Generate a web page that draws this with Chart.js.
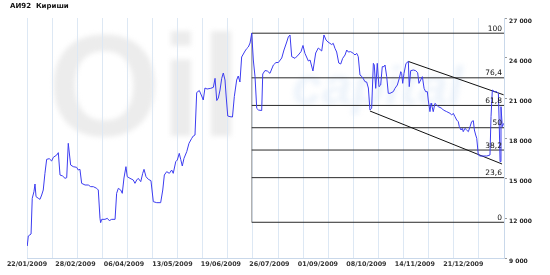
<!DOCTYPE html>
<html>
<head>
<meta charset="utf-8">
<script src="https://cdn.jsdelivr.net/npm/chart.js@4/dist/chart.umd.min.js"></script>
<style>
  html, body { margin: 0; padding: 0; background: #fff; }
  #wrap { position: relative; width: 550px; height: 275px; }
  #title { position: absolute; left: 10px; top: 2px; font: bold 7px 'DejaVu Sans'; color: #111; }
  canvas { position: absolute; left: 0; top: 0; }
</style>
</head>
<body>
<div id="wrap">
  <canvas id="c" width="550" height="275"></canvas>
  <div id="title">АИ92&nbsp;&nbsp;Кириши</div>
</div>
<script>
// days counted from 22/01/2009
const tickDays = [0, 37, 74, 111, 148, 185, 222, 259, 296, 333];
const tickLabels = ['22/01/2009', '28/02/2009', '06/04/2009', '13/05/2009', '19/06/2009',
  '26/07/2009', '01/09/2009', '08/10/2009', '14/11/2009', '21/12/2009'];
const gridDays = [0, 19.2, 38.3, 57.5, 76.6, 95.8, 114.9, 134.1, 153.3, 172.4, 191.6,
  210.7, 229.9, 249.1, 268.2, 287.4, 306.5, 325.7, 344.8, 364];

const days = [0.2, 1, 3.1, 4, 5.3, 6.1, 6.9, 8.6, 9.9, 11.2, 12.4, 13.7, 15, 17, 18.8, 20.1,
  22.7, 23.9, 25.2, 27.2, 29, 30.3, 31.5, 33.3, 35.3, 37.9, 39.1, 40.4, 41.7, 44.3, 46.8,
  48.6, 50.6, 53.2, 54.4, 55.7, 56.2, 57, 59.5, 61.3, 62.8, 64.6, 67.2, 68.4, 69.7, 71.5,
  72.7, 74, 75.5, 76.5, 78.6, 81.1, 82.4, 83.7, 84.9, 86.8, 88.3, 89.3, 90.8, 92.6, 94.6,
  96.4, 99, 102, 103.6, 104.8, 106.6, 108.6, 110.4, 111.6, 113.5, 114.7, 116.2, 117.3,
  118.5, 119.8, 121.9, 123.6, 125.7, 126.9, 128.2, 129.5, 131.5, 133.3, 134.5, 135.8,
  137.4, 140.2, 142.2, 143.5, 144.8, 146, 147.3, 148.6, 149.8, 151.1, 151.9, 153.2, 154.9,
  156.8, 158.2, 160, 161.2, 162.5, 163.8, 165.1, 166.4, 167.7, 168.9, 170.2, 171.5, 172.7,
  174, 175.3, 176.6, 179.1, 179.9, 181.6, 183.4, 185.4, 188, 190, 191.8, 194.4, 196.1,
  198.2, 199.4, 200.7, 202, 204.5, 207, 209.1, 210.6, 212.1, 214.7, 216, 218.2, 220.3,
  222.3, 224.9, 226.6, 228.2, 229.7, 232.5, 233.7, 235, 236.3, 237.9, 239.4, 240.9, 242.7,
  244, 245.2, 247, 249, 250.3, 251.6, 252.8, 254.1, 255.9, 257.9, 259.2, 260.5, 261.7,
  263, 264.3, 265, 266.1, 267.3, 268.6, 269.9, 271.1, 272.4, 273.2, 274.5, 275.7, 277,
  279.5, 280.8, 282.6, 284.1, 285.2, 285.9, 286.7, 287.7, 289.2, 291, 291.7, 292.8, 294.8,
  296.6, 298.1, 299.1, 300.4, 301.7, 303, 304.2, 305.5, 306.2, 307.5, 308.3, 308.8, 310,
  311.3, 312.6, 313.9, 316.5, 317.7, 320.3, 322.8, 324.1, 325.3, 326.6, 327.9, 329.1,
  329.9, 331.2, 332.2, 332.9, 334.2, 335.5, 336.8, 338.1, 339.3, 340.6, 341.4, 342.4,
  343.2, 344.4, 345.7, 350.8, 353.3, 354.1, 355.1, 356.6, 358.4, 359.7, 360.4, 361,
  361.7, 362.7, 363.8];
const prices = [9900, 10650, 10800, 13480, 13970, 14550, 13600, 13480, 13400, 13725, 14100,
  15350, 16400, 16450, 16275, 16550, 16725, 16900, 15225, 15150, 14975, 15025, 17600, 15975,
  15850, 15800, 15600, 15650, 14600, 14475, 14475, 14350, 14350, 14225, 14100, 11975, 11650,
  11900, 11900, 11975, 11800, 11900, 11900, 13850, 14225, 14100, 13850, 15000, 15850, 15100,
  14975, 14850, 14600, 14850, 14975, 14725, 15350, 15650, 15100, 14900, 14800, 13225, 13150,
  13150, 14100, 15225, 15475, 15350, 15600, 15350, 16225, 16350, 16850, 16400, 15900, 16475,
  16975, 17600, 17975, 18150, 18225, 21410, 21560, 21150, 20850, 21750, 21675, 21725, 21800,
  22475, 20810, 21000, 21600, 22475, 22875, 22350, 21225, 19650, 19600, 19575, 21100, 22350,
  22650, 22200, 24075, 24300, 24525, 24710, 24825, 25125, 25860, 23850, 22600, 20225, 20100,
  20060, 22800, 23060, 23025, 22850, 23475, 23660, 23660, 24000, 24600, 25200, 25575, 25725,
  24100, 23975, 24225, 24475, 24940, 24350, 23775, 23850, 23025, 24375, 24750, 24525, 25725,
  25350, 25200, 25010, 25100, 24725, 24450, 23625, 23550, 23975, 24225, 24600, 24450, 24475,
  24350, 24225, 24350, 24100, 22725, 22575, 22225, 22200, 21750, 20100, 20225, 23600, 23475,
  21725, 23600, 21850, 21975, 23350, 23350, 23475, 22600, 21350, 21350, 21475, 21725, 21975,
  22475, 22975, 22850, 22100, 22850, 23590, 23740, 21850, 23050, 23100, 23050, 22900, 22100,
  22350, 22600, 21725, 21475, 21475, 20850, 19975, 20600, 20475, 19975, 20600, 20475, 20350,
  20225, 20100, 19975, 19850, 19725, 19850, 19600, 19350, 19225, 18850, 18600, 18725, 18475,
  18725, 18600, 18475, 18850, 19225, 19300, 18600, 18225, 17975, 16725, 16650, 16650, 16725,
  19600, 21600, 21475, 21475, 21350, 18850, 16225, 20350, 18850, 19100];

// Fibonacci retracement between the low and the July peak
const fibStart = 171.5;
const fibEnd = 364;
const fibLow = 11680;
const fibHigh = 25860;
const fibLevels = [0, 23.6, 38.2, 50, 61.8, 76.4, 100];
const fibLabels = ['0', '23,6', '38,2', '50', '61,8', '76,4', '100'];

// trend channel
const upperDays = [291, 363.7];
const upperPrices = [23740, 21240];
const lowerDays = [261.7, 362.5];
const lowerPrices = [20025, 16050];

const fibValue = l => fibLow + (fibHigh - fibLow) * l / 100;
const seg = (color, pts, width) => ({
  data: pts, borderColor: color, borderWidth: width || 1,
  pointRadius: 0, tension: 0, fill: false,
});

const datasets = [
  seg('#3c3cf0', days.map((d, i) => ({ x: d, y: prices[i] }))),
  seg('#111', upperDays.map((d, i) => ({ x: d, y: upperPrices[i] }))),
  seg('#111', lowerDays.map((d, i) => ({ x: d, y: lowerPrices[i] }))),
  ...fibLevels.map(l => seg('#2a2a2a', [{ x: fibStart, y: fibValue(l) }, { x: fibEnd, y: fibValue(l) }])),
  seg('#9a9a9a', [{ x: fibStart, y: fibLow }, { x: fibStart, y: fibHigh }]),
];

// faint site logo behind the plot
const watermark = {
  id: 'watermark',
  beforeDraw(chart) {
    const c = chart.ctx;
    c.save();
    c.filter = 'blur(2.5px)';
    c.fillStyle = '#ececec';
    c.font = 'bold 145px "Liberation Sans"';
    c.fillText('Oil', 48, 136);
    c.fillStyle = '#eef4fb';
    c.font = 'bold italic 54px "Liberation Sans"';
    c.fillText('capital', 292, 104);
    c.restore();
  }
};

const fibText = {
  id: 'fibText',
  afterDatasetsDraw(chart) {
    const c = chart.ctx, y = chart.scales.y, a = chart.chartArea;
    c.save();
    c.font = '7.5px "DejaVu Sans"';
    c.fillStyle = '#111';
    c.textAlign = 'right';
    c.textBaseline = 'alphabetic';
    fibLevels.forEach((l, i) => {
      c.fillText(fibLabels[i], a.right - 2, y.getPixelForValue(fibValue(l)) - 2.5);
    });
    c.restore();
  }
};

const gridBlue = '#dde8f4';

new Chart(document.getElementById('c'), {
  type: 'line',
  data: { datasets },
  plugins: [watermark, fibText],
  options: {
    responsive: false,
    animation: false,
    layout: { padding: { left: 27, top: 18, right: 0, bottom: 0 } },
    plugins: { legend: { display: false }, tooltip: { enabled: false } },
    scales: {
      x: {
        type: 'linear', min: 0, max: 364, position: 'bottom',
        grid: { display: false, drawTicks: false },
        border: { display: true, color: '#c9d8ea' },
        ticks: {
          autoSkip: false, maxRotation: 0, minRotation: 0, padding: 3,
          color: '#333', font: { family: 'DejaVu Sans', size: 6.4, weight: 'bold' },
          callback: v => tickLabels[tickDays.indexOf(v)] || '',
        },
        afterBuildTicks: s => { s.ticks = tickDays.map(v => ({ value: v })); },
        afterFit: s => { s.height = 17; },
      },
      xg: {
        type: 'linear', min: 0, max: 364, position: 'bottom',
        grid: { color: gridBlue, drawTicks: false },
        border: { display: false },
        ticks: { display: false },
        afterBuildTicks: s => { s.ticks = gridDays.map(v => ({ value: v })); },
        afterFit: s => { s.height = 0; },
      },
      y: {
        position: 'right', min: 9000, max: 27000,
        grid: { drawOnChartArea: false, drawTicks: true, tickLength: 3, tickColor: '#999' },
        border: { display: true, color: '#c9d8ea' },
        ticks: {
          stepSize: 3000, padding: 2, labelOffset: 3,
          color: '#222', font: { family: 'DejaVu Sans', size: 6, weight: 'bold' },
          callback: v => String(v).replace(/\B(?=(\d{3})+(?!\d))/g, ' '),
        },
        afterFit: s => { s.width = 46; },
      },
    },
  },
});
</script>
</body>
</html>
